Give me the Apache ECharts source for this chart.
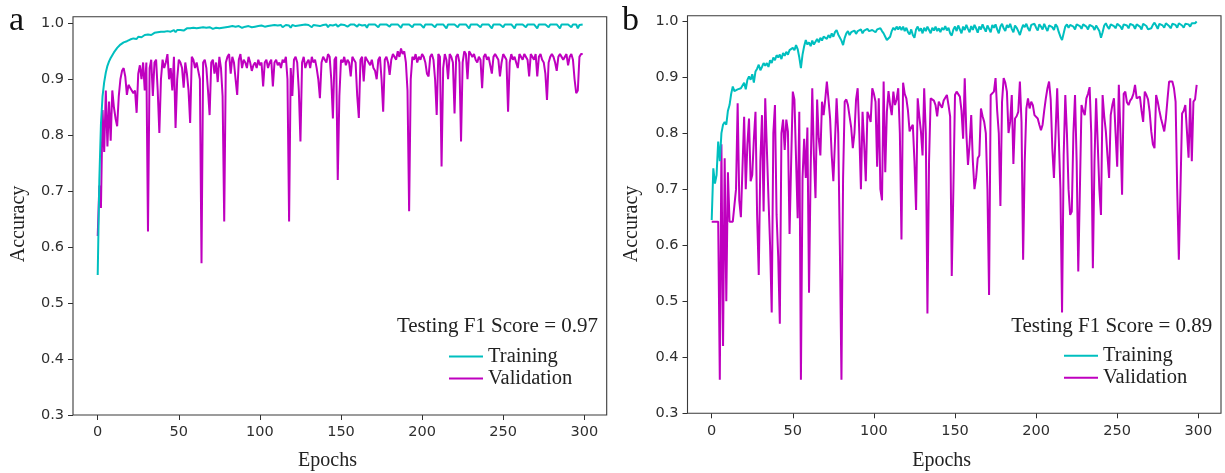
<!DOCTYPE html>
<html><head><meta charset="utf-8">
<script src="https://cdn.jsdelivr.net/npm/echarts@6/dist/echarts.min.js"></script>
<style>html,body{margin:0;padding:0;background:#fff}#c{width:1225px;height:473px}</style>
</head><body><div id="c"></div>
<script>
// ---------- data ----------
const epochs = Array.from({length: 300}, (_, i) => i);
const xTickValues = [0, 50, 100, 150, 200, 250, 300];
const yTickValues = [0.3, 0.4, 0.5, 0.6, 0.7, 0.8, 0.9, 1.0];
const panelLabels = ['a', 'b'];
const f1Texts = ['Testing F1 Score = 0.97', 'Testing F1 Score = 0.89'];
const seriesNames = ['Training', 'Validation'];

const trainA = [
0.55,0.72,0.82,0.87,0.895,0.912,0.924,0.932,0.938,0.943,
0.948,0.952,0.956,0.958,0.962,0.963,0.966,0.965,0.968,0.970,
0.971,0.970,0.973,0.974,0.972,0.976,0.977,0.975,0.978,0.979,
0.978,0.980,0.981,0.979,0.982,0.983,0.981,0.984,0.983,0.985,
0.984,0.985,0.983,0.986,0.987,0.985,0.987,0.988,0.984,0.988,
0.989,0.988,0.990,0.987,0.990,0.991,0.989,0.991,0.990,0.992,
0.990,0.991,0.989,0.992,0.991,0.993,0.990,0.992,0.991,0.993,
0.992,0.990,0.993,0.992,0.994,0.991,0.993,0.992,0.994,0.993,
0.991,0.994,0.993,0.995,0.992,0.994,0.993,0.995,0.994,0.992,
0.995,0.994,0.993,0.995,0.996,0.993,0.995,0.994,0.996,0.995,
0.993,0.996,0.995,0.994,0.996,0.995,0.992,0.996,0.995,0.997,
0.994,0.996,0.995,0.997,0.993,0.996,0.997,0.995,0.996,0.992,
0.997,0.996,0.995,0.997,0.996,0.993,0.997,0.996,0.998,0.995,
0.997,0.996,0.993,0.997,0.998,0.996,0.997,0.995,0.998,0.997,
0.996,0.998,0.993,0.997,0.998,0.996,0.997,0.998,0.994,0.997,
0.998,0.996,0.997,0.998,0.994,0.997,0.998,0.996,0.998,0.997,
0.994,0.998,0.997,0.996,0.998,0.997,0.992,0.998,0.997,0.998,
0.996,0.998,0.997,0.993,0.998,0.997,0.998,0.995,0.998,0.997,
0.994,0.998,0.997,0.998,0.995,0.998,0.997,0.992,0.998,0.997,
0.998,0.995,0.998,0.997,0.993,0.998,0.997,0.998,0.995,0.998,
0.997,0.992,0.998,0.997,0.998,0.995,0.998,0.997,0.993,0.998,
0.997,0.998,0.995,0.998,0.997,0.991,0.998,0.997,0.998,0.995,
0.998,0.997,0.993,0.998,0.997,0.998,0.995,0.998,0.997,0.991,
0.998,0.997,0.998,0.995,0.998,0.997,0.993,0.998,0.997,0.998,
0.995,0.998,0.997,0.991,0.998,0.997,0.998,0.995,0.998,0.997,
0.993,0.998,0.997,0.998,0.995,0.998,0.997,0.991,0.998,0.997,
0.998,0.995,0.998,0.997,0.993,0.998,0.997,0.998,0.995,0.998,
0.997,0.991,0.998,0.997,0.998,0.995,0.998,0.997,0.993,0.998,
0.997,0.998,0.995,0.998,0.997,0.991,0.998,0.997,0.998,0.995,
0.998,0.997,0.993,0.998,0.997,0.998,0.991,0.997,0.998,0.998
];

const valA = [
0.62,0.71,0.67,0.845,0.77,0.88,0.78,0.86,0.79,0.88,
0.85,0.83,0.816,0.87,0.90,0.915,0.92,0.905,0.872,0.89,
0.885,0.88,0.875,0.88,0.84,0.91,0.925,0.90,0.93,0.88,
0.93,0.628,0.92,0.935,0.87,0.93,0.935,0.88,0.804,0.90,
0.935,0.92,0.93,0.945,0.90,0.92,0.88,0.94,0.813,0.90,
0.935,0.93,0.92,0.885,0.93,0.91,0.88,0.822,0.94,0.935,
0.92,0.93,0.915,0.90,0.571,0.93,0.935,0.92,0.88,0.836,
0.93,0.935,0.91,0.93,0.895,0.94,0.92,0.87,0.646,0.93,
0.94,0.945,0.91,0.94,0.93,0.90,0.872,0.935,0.945,0.92,
0.935,0.93,0.92,0.94,0.93,0.915,0.925,0.93,0.92,0.935,
0.925,0.93,0.887,0.93,0.935,0.92,0.93,0.935,0.887,0.93,
0.935,0.925,0.93,0.92,0.935,0.93,0.94,0.90,0.646,0.92,
0.87,0.935,0.94,0.93,0.88,0.789,0.93,0.94,0.92,0.93,
0.935,0.92,0.94,0.93,0.935,0.92,0.90,0.866,0.93,0.94,
0.935,0.93,0.945,0.94,0.90,0.83,0.935,0.94,0.72,0.87,
0.935,0.93,0.94,0.925,0.935,0.93,0.905,0.94,0.935,0.93,
0.87,0.831,0.935,0.94,0.896,0.94,0.935,0.93,0.925,0.935,
0.92,0.915,0.90,0.935,0.94,0.90,0.842,0.935,0.94,0.93,
0.908,0.935,0.945,0.94,0.935,0.95,0.94,0.955,0.945,0.95,
0.93,0.88,0.664,0.90,0.94,0.935,0.945,0.93,0.94,0.935,
0.945,0.94,0.93,0.91,0.905,0.94,0.945,0.935,0.90,0.836,
0.945,0.94,0.744,0.92,0.945,0.935,0.90,0.945,0.94,0.93,
0.839,0.94,0.945,0.93,0.789,0.93,0.95,0.945,0.90,0.95,
0.945,0.94,0.945,0.935,0.93,0.94,0.935,0.884,0.94,0.945,
0.935,0.94,0.925,0.91,0.94,0.945,0.94,0.935,0.905,0.93,
0.945,0.94,0.935,0.842,0.93,0.945,0.935,0.94,0.93,0.92,
0.945,0.94,0.935,0.945,0.94,0.935,0.905,0.945,0.94,0.935,
0.945,0.905,0.94,0.945,0.935,0.93,0.91,0.863,0.93,0.94,
0.945,0.94,0.93,0.915,0.94,0.945,0.94,0.935,0.94,0.945,
0.925,0.94,0.945,0.935,0.90,0.875,0.88,0.94,0.945,0.945
];

const trainB = [
0.645,0.737,0.71,0.725,0.785,0.75,0.80,0.815,0.82,0.815,
0.84,0.85,0.87,0.883,0.875,0.872,0.878,0.875,0.88,0.882,
0.89,0.878,0.895,0.901,0.895,0.905,0.89,0.91,0.915,0.922,
0.912,0.918,0.925,0.92,0.925,0.918,0.93,0.925,0.935,0.93,
0.939,0.935,0.94,0.932,0.943,0.938,0.945,0.94,0.948,0.945,
0.952,0.948,0.957,0.95,0.935,0.916,0.94,0.955,0.966,0.958,
0.962,0.955,0.965,0.958,0.96,0.968,0.962,0.97,0.965,0.972,
0.975,0.968,0.975,0.97,0.978,0.972,0.98,0.984,0.976,0.975,
0.965,0.957,0.97,0.978,0.982,0.975,0.98,0.978,0.983,0.977,
0.982,0.98,0.985,0.978,0.983,0.98,0.986,0.982,0.985,0.984,
0.986,0.98,0.985,0.983,0.987,0.982,0.978,0.972,0.966,0.964,
0.972,0.982,0.988,0.984,0.99,0.985,0.99,0.984,0.99,0.982,
0.988,0.98,0.976,0.985,0.975,0.97,0.985,0.99,0.982,0.987,
0.978,0.988,0.982,0.99,0.984,0.978,0.988,0.983,0.99,0.982,
0.987,0.98,0.988,0.984,0.991,0.983,0.988,0.978,0.974,0.985,
0.99,0.982,0.992,0.985,0.978,0.99,0.984,0.993,0.986,0.98,
0.991,0.984,0.993,0.987,0.979,0.99,0.985,0.994,0.987,0.981,
0.992,0.986,0.98,0.993,0.988,0.994,0.985,0.978,0.99,0.995,
0.987,0.982,0.993,0.988,0.995,0.986,0.98,0.992,0.988,0.982,
0.975,0.985,0.993,0.989,0.995,0.987,0.982,0.993,0.99,0.995,
0.988,0.983,0.994,0.99,0.985,0.995,0.988,0.982,0.992,0.995,
0.989,0.984,0.994,0.99,0.98,0.972,0.966,0.978,0.99,0.994,
0.988,0.993,0.996,0.99,0.985,0.994,0.997,0.991,0.986,0.994,
0.996,0.99,0.985,0.993,0.996,0.99,0.984,0.992,0.995,0.982,
0.97,0.98,0.992,0.996,0.99,0.986,0.994,0.997,0.991,0.987,
0.995,0.997,0.99,0.985,0.994,0.997,0.992,0.987,0.995,0.998,
0.992,0.986,0.994,0.997,0.99,0.985,0.995,0.998,0.991,0.985,
0.982,0.987,0.993,0.997,0.992,0.986,0.995,0.998,0.992,0.988,
0.996,0.998,0.991,0.987,0.995,0.998,0.993,0.988,0.996,0.998,
0.992,0.988,0.995,0.998,0.994,0.99,0.996,0.998,0.996,0.999
];

const valB = [
0.642,0.642,0.642,0.642,0.642,0.36,0.78,0.42,0.755,0.50,
0.73,0.642,0.642,0.642,0.642,0.70,0.853,0.68,0.65,0.74,
0.829,0.70,0.78,0.826,0.714,0.725,0.79,0.838,0.654,0.547,
0.75,0.832,0.66,0.862,0.86,0.684,0.60,0.48,0.80,0.85,
0.654,0.58,0.46,0.80,0.824,0.77,0.824,0.803,0.62,0.75,
0.874,0.86,0.862,0.648,0.838,0.36,0.72,0.79,0.72,0.81,
0.515,0.733,0.88,0.76,0.684,0.86,0.79,0.76,0.856,0.832,
0.86,0.892,0.86,0.826,0.76,0.714,0.785,0.862,0.80,0.60,
0.36,0.72,0.856,0.86,0.85,0.83,0.81,0.773,0.80,0.86,
0.88,0.80,0.70,0.838,0.78,0.714,0.838,0.83,0.82,0.88,
0.87,0.856,0.74,0.862,0.70,0.68,0.892,0.73,0.838,0.875,
0.85,0.832,0.874,0.85,0.86,0.88,0.80,0.61,0.89,0.87,
0.862,0.84,0.803,0.81,0.815,0.75,0.663,0.862,0.83,0.803,
0.76,0.88,0.80,0.478,0.75,0.862,0.86,0.858,0.85,0.83,
0.856,0.85,0.845,0.858,0.86,0.868,0.85,0.83,0.545,0.70,
0.868,0.874,0.874,0.865,0.84,0.79,0.898,0.80,0.743,0.78,
0.832,0.75,0.70,0.72,0.755,0.76,0.844,0.83,0.82,0.80,
0.70,0.511,0.868,0.87,0.874,0.898,0.84,0.80,0.67,0.856,
0.898,0.89,0.874,0.80,0.82,0.868,0.745,0.826,0.83,0.838,
0.892,0.82,0.574,0.75,0.844,0.862,0.844,0.856,0.85,0.832,
0.83,0.826,0.815,0.805,0.815,0.84,0.862,0.88,0.892,0.86,
0.773,0.72,0.80,0.88,0.79,0.70,0.48,0.76,0.868,0.80,
0.70,0.654,0.66,0.80,0.868,0.75,0.553,0.70,0.85,0.84,
0.832,0.862,0.87,0.882,0.80,0.559,0.75,0.862,0.86,0.70,
0.654,0.868,0.83,0.803,0.76,0.72,0.832,0.85,0.862,0.80,
0.74,0.886,0.80,0.69,0.87,0.874,0.855,0.85,0.858,0.862,
0.87,0.886,0.862,0.86,0.865,0.84,0.82,0.874,0.868,0.86,
0.838,0.803,0.78,0.773,0.868,0.856,0.84,0.826,0.815,0.803,
0.826,0.86,0.892,0.892,0.892,0.88,0.856,0.70,0.574,0.70,
0.835,0.84,0.85,0.85,0.756,0.862,0.75,0.856,0.86,0.886
];

// ---------- chart ----------
const TEAL = '#00bfbf', MAG = '#bf00bf';
const SERIF = '"Liberation Serif", "Times New Roman", serif';
const SANS = '"DejaVu Sans", sans-serif';
const tickColor = '#2e2e2e';
const LINE_W = 2;

// layout of each panel (pixels)
const panels = [
  {frame: {x: 73, y: 16.7, w: 533.7, h: 398.3}, grid: {left: 97.7, width: 486.6, top: 23.3, height: 391.7},
   f1: {x: 598, y: 326}, legend: {left: 449, top: 346}, xName: {x: 327.5, y: 461}, yName: {x: 18.5, y: 224}, letter: {x: 9, y: 21}},
  {frame: {x: 687.5, y: 15.7, w: 533.5, h: 397.6}, grid: {left: 711.7, width: 486.6, top: 21, height: 392.3},
   f1: {x: 1212.3, y: 326}, legend: {left: 1064, top: 345.3}, xName: {x: 941.7, y: 461}, yName: {x: 632, y: 224}, letter: {x: 622, y: 21}}
];

const grids = [], xAxes = [], yAxes = [], series = [], legends = [], graphics = [];
const trainSets = [trainA, trainB], valSets = [valA, valB];
const yMin = yTickValues[0], yMax = yTickValues[yTickValues.length - 1];

// data grids (0,1)
panels.forEach((p, i) => {
  grids.push({left: p.grid.left, width: p.grid.width, top: p.grid.top, height: p.grid.height, containLabel: false});
  xAxes.push({
    gridIndex: i, type: 'value', min: xTickValues[0], max: xTickValues[xTickValues.length - 1], interval: 50,
    axisLine: {show: false},
    axisTick: {show: true, length: 5, inside: false, lineStyle: {color: tickColor, width: 1}},
    axisLabel: {color: tickColor, fontFamily: SANS, fontSize: 14.5, margin: 10},
    splitLine: {show: false}
  });
  yAxes.push({gridIndex: i, type: 'value', min: yMin, max: yMax, interval: 0.1, show: false});
  series.push({
    name: seriesNames[0], type: 'line', xAxisIndex: i, yAxisIndex: i, showSymbol: false, symbol: 'none',
    data: epochs.map((e, k) => [e, trainSets[i][k]]),
    lineStyle: {color: TEAL, width: LINE_W}, itemStyle: {color: TEAL}, z: 3
  });
  series.push({
    name: seriesNames[1], type: 'line', xAxisIndex: i, yAxisIndex: i, showSymbol: false, symbol: 'none',
    data: epochs.map((e, k) => [e, valSets[i][k]]),
    lineStyle: {color: MAG, width: LINE_W}, itemStyle: {color: MAG}, z: 2
  });
  legends.push({
    data: seriesNames, orient: 'vertical', left: p.legend.left, top: p.legend.top, padding: 0,
    itemGap: 1, itemWidth: 34, itemHeight: 2, icon: 'rect', selectedMode: false,
    textStyle: {fontFamily: SERIF, fontSize: 20.5, color: '#222', lineHeight: 20}
  });
  graphics.push({
    type: 'rect', silent: true, z: 10,
    shape: {x: p.frame.x, y: p.frame.y, width: p.frame.w, height: p.frame.h},
    style: {fill: null, stroke: '#3a3a3a', lineWidth: 1.1}
  });
  graphics.push({
    type: 'text', x: p.f1.x, y: p.f1.y, z: 10,
    style: {text: f1Texts[i], font: '21px ' + SERIF, fill: '#222', textAlign: 'right', textVerticalAlign: 'middle'}
  });
  graphics.push({
    type: 'text', x: p.xName.x, y: p.xName.y, z: 10,
    style: {text: 'Epochs', font: '20px ' + SERIF, fill: '#222', textAlign: 'center', textVerticalAlign: 'middle'}
  });
  graphics.push({
    type: 'text', x: p.yName.x, y: p.yName.y, rotation: Math.PI / 2, z: 10,
    style: {text: 'Accuracy', font: '20px ' + SERIF, fill: '#222', textAlign: 'center', textVerticalAlign: 'middle'}
  });
  graphics.push({
    type: 'text', x: p.letter.x, y: p.letter.y, z: 10,
    style: {text: panelLabels[i], font: '34px ' + SERIF, fill: '#111', textAlign: 'left', textVerticalAlign: 'middle'}
  });
});

// y-axis grids (2,3): same vertical scale, sitting on the frame's left edge
panels.forEach((p, i) => {
  const gi = grids.length;
  grids.push({left: p.frame.x, width: 10, top: p.grid.top, height: p.grid.height, containLabel: false});
  xAxes.push({gridIndex: gi, type: 'value', min: 0, max: 1, show: false});
  yAxes.push({
    gridIndex: gi, type: 'value', min: yMin, max: yMax, interval: 0.1, position: 'left',
    axisLine: {show: false},
    axisTick: {show: true, length: 5, inside: false, lineStyle: {color: tickColor, width: 1}},
    axisLabel: {color: tickColor, fontFamily: SANS, fontSize: 14.5, margin: 9, formatter: v => v.toFixed(1)},
    splitLine: {show: false}
  });
});

const chart = echarts.init(document.getElementById('c'), null, {renderer: 'canvas'});
chart.setOption({
  animation: false,
  backgroundColor: '#fff',
  grid: grids, xAxis: xAxes, yAxis: yAxes, series: series, legend: legends,
  graphic: {elements: graphics}
});
</script>
</body></html>
